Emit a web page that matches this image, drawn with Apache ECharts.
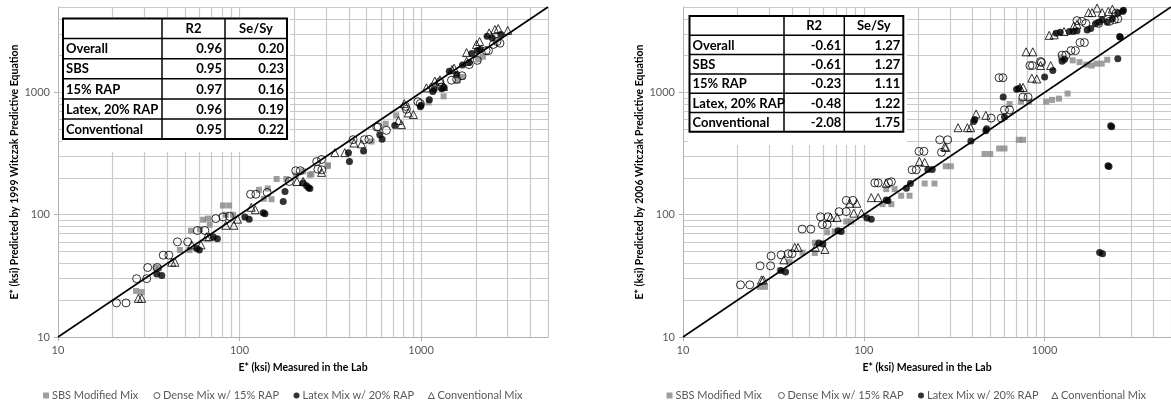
<!DOCTYPE html>
<html><head><meta charset="utf-8">
<script src="https://cdn.jsdelivr.net/npm/echarts@6/dist/echarts.min.js"></script>
<style>html,body{margin:0;padding:0;background:#fff}#c{width:1171px;height:407px}</style>
</head><body><div id="c"></div>
<script>
// ---------- data ----------
const seriesNames = ['SBS Modified Mix', 'Dense Mix w/ 15% RAP', 'Latex Mix w/ 20% RAP', 'Conventional Mix'];
const majorTicks = [10, 100, 1000];
const gridValues = [20,30,40,50,60,70,80,90,100,200,300,400,500,600,700,800,900,1000,2000,3000,4000,5000];
const axisRange = [10, 5000];

const tableRowNames = ['Overall', 'SBS', '15% RAP', 'Latex, 20% RAP', 'Conventional'];
const tableHeaders = ['R2', 'Se/Sy'];
const r2_1999 = ['0.96', '0.95', '0.97', '0.96', '0.95'];
const se_1999 = ['0.20', '0.23', '0.16', '0.19', '0.22'];
const r2_2006 = ['-0.61', '-0.61', '-0.23', '-0.48', '-2.08'];
const se_2006 = ['1.27', '1.27', '1.11', '1.22', '1.75'];

// 1999 Witczak: [measured, predicted]
const sbs1999 = [[26.9,23.8],[28.9,23.3],[34.5,37],[36,36.5],[46.9,51.5],[53,51.5],[54,74],[60.6,76],[68.5,83],[63,91],[67,93],[81,119],[87.6,119],[84,100],[92,100],[128,160],[143,164],[136,135],[150,134],[160,196],[181,196],[204,210],[224,227],[244,212],[249,215],[305,250],[307,254],[534,397],[638,555],[730,650],[1100,830],[1330,930],[1590,1250],[1690,1340],[2060,1860],[2190,1960],[2600,2700]];
const dense1999 = [[21,19],[23.7,19],[27.1,30],[30.8,30],[31.2,37],[35.2,37],[38,46.7],[40.8,46.7],[45.5,60],[51.8,60],[58.6,74.3],[64.4,74.3],[74,93],[81,96],[88,97],[115,147],[123,147],[142,152],[188,187],[204,229],[216,229],[266,272],[283,283],[270,236],[284,233],[422,411],[487,411],[516,414],[570,520],[580,524],[644,490],[830,728],[820,769],[990,812],[960,840],[1165,1110],[1300,1110],[1270,1220],[1470,1260],[1570,1280],[1680,1370],[1840,1690],[2040,1830],[2280,2200],[2350,2200],[2500,2470],[2620,2610],[2720,2530]];
const latex1999 = [[35,32.8],[37.3,31.8],[58,53],[60,51.5],[71.7,65.6],[75.5,63.6],[107,96],[113,92],[135,104],[138,102],[174,128],[178,155],[224,182],[234,173],[240,166],[244,164],[398,322],[403,272],[482,332],[592,450],[610,415],[716,537],[990,765],[1000,785],[1110,870],[1160,1020],[1180,1060],[1300,1070],[1340,1100],[1430,1490],[1570,1400],[1690,1680],[1840,1760],[1900,2080],[2040,2200],[2120,2250],[2310,2880],[2460,2800],[2750,2980]];
const conv1999 = [[27.7,20.7],[28.9,20.7],[42.3,40.9],[44.1,40.9],[54.5,56.7],[61.3,56.7],[65.8,66],[68,66],[84,82],[93,82],[97.5,92],[116,115],[122,110],[207,187],[224,187],[283,222],[335,322],[380,322],[427,386],[470,380],[750,590],[780,546],[808,810],[850,680],[907,660],[1070,1090],[1190,1240],[1270,1270],[1330,1120],[1480,1540],[1520,1580],[1780,1800],[1780,2120],[2020,2470],[2100,2610],[2370,3070],[2550,3270],[2660,3330],[3000,3220]];

// 2006 Witczak: [measured, predicted]
const sbs2006 = [[26.6,25.7],[28.4,25.7],[34.3,35.1],[38.6,41.2],[45.8,49],[53.6,48.6],[53.6,59],[62.7,71.8],[69,73],[80,88],[85,88],[127,122],[142,122],[133,162],[148,162],[161,143],[179,143],[217,180],[246,180],[284,249],[303,249],[465,314],[500,314],[560,348],[600,348],[720,410],[760,410],[640,805],[740,840],[820,840],[1020,840],[1100,870],[1200,890],[1340,980],[1230,1930],[1430,1830],[1560,1770],[1700,1690],[1820,1660],[1940,1720],[2070,1720],[2220,1850]];
const dense2006 = [[20.8,26.7],[23.4,26.7],[26.7,38.2],[30.5,38.2],[30.7,46],[34.9,47],[38.2,48],[40.1,48],[45.6,76.3],[50.9,76.3],[57.6,96.2],[63.4,96.2],[59,83],[62.7,83],[73,106],[80,106],[80,131],[87,131],[115,182],[120,182],[137,183],[142,186],[185,233],[195,233],[202,330],[215,330],[263,410],[291,410],[269,324],[506,617],[576,617],[600,720],[640,720],[758,916],[810,916],[560,1320],[588,1320],[829,1660],[857,1660],[950,1790],[960,1760],[1250,2020],[1310,2020],[1400,2200],[1480,2200],[1570,2560],[1660,2560],[1510,3870],[1610,3820],[1690,3670],[1990,3670],[2290,3820],[2430,3940],[2540,4000],[2490,4460]];
const latex2006 = [[34.8,35],[36.9,34],[56.5,58.6],[59.4,57.5],[72,74],[75,73],[104,94],[110,92],[133,132],[136,130],[172,165],[181,180],[226,234],[239,234],[391,400],[405,580],[411,600],[473,486],[478,504],[590,916],[600,630],[700,1060],[720,1080],[1000,1340],[1110,1510],[1250,1800],[1290,1870],[1160,3050],[1220,3110],[1370,3150],[1440,3150],[1510,3200],[1720,3240],[1800,3340],[1910,3650],[2000,3750],[2080,3940],[2220,3750],[2370,4000],[2540,4460],[2700,4600],[2730,4700],[2540,1890],[2600,2870],[2620,2830],[2320,535],[2350,525],[2240,252],[2270,248],[2015,49],[2090,48]];
const conv2006 = [[27.2,29.3],[27.8,29.3],[36.1,42.8],[41.5,54],[43.3,54],[54,54],[60.9,52],[65.4,95],[71.2,95],[83.5,124],[91.5,124],[88,103],[97,103],[110,138],[120,138],[133,181],[203,273],[217,268],[280,360],[284,355],[332,515],[374,515],[390,515],[418,667],[473,650],[730,1100],[760,1100],[850,1310],[905,1290],[790,2150],[860,2150],[950,1660],[1080,1660],[1060,2930],[1130,2960],[1280,3150],[1450,3500],[1510,3600],[1750,4500],[1830,4500],[1950,4900],[2080,4500],[2250,4600],[2370,4800]];

// ---------- chart ----------
const FONT = 'Lato, "Noto Sans", sans-serif';
const GRID_COLOR = '#c9c9c9';
const AXIS_COLOR = '#b0b0b0';

function xAxisCfg(gi) {
  return {
    type: 'log', logBase: 10, gridIndex: gi, min: axisRange[0], max: axisRange[1],
    name: 'E* (ksi) Measured in the Lab', nameLocation: 'middle', nameGap: 25,
    nameTextStyle: { fontFamily: FONT, fontSize: 10.5, fontWeight: 'bold', color: '#000' },
    axisLine: { lineStyle: { color: AXIS_COLOR, width: 1 } },
    axisTick: { show: true, length: 4, lineStyle: { color: AXIS_COLOR } },
    axisLabel: { fontFamily: FONT, fontSize: 11, color: '#595959', margin: 8, showMaxLabel: false,
      formatter: v => { const r = Math.round(v); return majorTicks.indexOf(r) >= 0 ? String(r) : ''; } },
    splitLine: { show: false }, minorTick: { show: false }, minorSplitLine: { show: false }
  };
}
function yAxisCfg(gi, title) {
  return {
    type: 'log', logBase: 10, gridIndex: gi, min: axisRange[0], max: axisRange[1],
    name: title, nameLocation: 'middle', nameGap: 37,
    nameTextStyle: { fontFamily: FONT, fontSize: 10.5, fontWeight: 'bold', color: '#000' },
    axisLine: { show: true, lineStyle: { color: AXIS_COLOR, width: 1 } },
    axisTick: { show: true, length: 4, lineStyle: { color: AXIS_COLOR } },
    axisLabel: { fontFamily: FONT, fontSize: 11, color: '#595959', margin: 8, showMaxLabel: false,
      formatter: v => { const r = Math.round(v); return majorTicks.indexOf(r) >= 0 ? String(r) : ''; } },
    splitLine: { show: false }, minorTick: { show: false }, minorSplitLine: { show: false }
  };
}

const styles = [
  { symbol: 'rect', symbolSize: 6, itemStyle: { color: '#878787' } },
  { symbol: 'circle', symbolSize: 8, itemStyle: { color: 'rgba(0,0,0,0)', borderColor: '#000', borderWidth: 1 } },
  { symbol: 'circle', symbolSize: 7, itemStyle: { color: '#000' } },
  { symbol: 'triangle', symbolSize: 8, itemStyle: { color: 'rgba(0,0,0,0)', borderColor: '#000', borderWidth: 1 } }
];

function chartSeries(gi, datasets) {
  const out = [];
  const diag = [[axisRange[0], axisRange[0]], [axisRange[1], axisRange[1]]];
  const ml = [];
  gridValues.forEach(v => { ml.push({ xAxis: v }); ml.push({ yAxis: v }); });
  out.push({
    type: 'line', name: 'diag' + gi, xAxisIndex: gi, yAxisIndex: gi, data: diag,
    symbol: 'none', lineStyle: { color: '#000', width: 1.6 }, z: 4, silent: true,
    markLine: { silent: true, symbol: 'none', z: 1, label: { show: false },
      lineStyle: { color: GRID_COLOR, width: 1.2, type: 'solid' }, emphasis: { disabled: true }, data: ml }
  });
  datasets.forEach((d, i) => {
    out.push(Object.assign({ type: 'scatter', name: seriesNames[i], xAxisIndex: gi, yAxisIndex: gi, data: d, z: 3 }, styles[i]));
  });
  return out;
}

function tableGraphics(x0, y0, colW, rowH, r2, se, box) {
  const els = [];
  els.push({ type: 'rect', shape: { x: box[0], y: box[1], width: box[2], height: box[3] }, style: { fill: '#fff' }, z: 100 });
  const W = colW[0] + colW[1] + colW[2], H = rowH * 6;
  for (let i = 1; i < 6; i++) {
    els.push({ type: 'line', shape: { x1: x0, y1: y0 + i * rowH, x2: x0 + W, y2: y0 + i * rowH }, style: { stroke: '#000', lineWidth: 1.5 }, z: 101 });
  }
  const c1 = x0 + colW[0], c2 = c1 + colW[1], c3 = c2 + colW[2];
  [c1, c2].forEach(cx => els.push({ type: 'line', shape: { x1: cx, y1: y0, x2: cx, y2: y0 + H }, style: { stroke: '#000', lineWidth: 1.5 }, z: 101 }));
  els.push({ type: 'rect', shape: { x: x0, y: y0, width: W, height: H }, style: { fill: 'none', stroke: '#000', lineWidth: 2 }, z: 102 });
  const txt = (t, x, y, align) => ({ type: 'text', x: x, y: y, z: 103,
    style: { text: t, fontFamily: FONT, fontSize: 13, fontWeight: 'bold', fill: '#000',
      align: align, verticalAlign: 'middle', textAlign: align, textVerticalAlign: 'middle' } });
  els.push(txt(tableHeaders[0], (c1 + c2) / 2, y0 + rowH / 2 + 0.5, 'center'));
  els.push(txt(tableHeaders[1], (c2 + c3) / 2, y0 + rowH / 2 + 0.5, 'center'));
  tableRowNames.forEach((n, i) => {
    const yc = y0 + (i + 1.5) * rowH + 0.5;
    els.push(txt(n, x0 + 3, yc, 'left'));
    els.push(txt(r2[i], c2 - 3, yc, 'right'));
    els.push(txt(se[i], c3 - 3, yc, 'right'));
  });
  return els;
}

// one legend item per component so each sits where the reference puts it
const legendLefts = [[43, 153.5, 293.5, 428], [666.5, 778, 918, 1051.5]];
const legends = [];
legendLefts.forEach(row => row.forEach((lx, i) => {
  legends.push({
    left: lx, top: 390, itemWidth: 6, itemHeight: 6, data: [seriesNames[i]], selectedMode: false,
    padding: 0, itemStyle: { borderWidth: 0.8 },
    textStyle: { fontFamily: FONT, fontSize: 11, color: '#595959', padding: [0, 0, 0, -2] }
  });
}));

const chart = echarts.init(document.getElementById('c'), null, { renderer: 'canvas' });
chart.setOption({
  animation: false,
  backgroundColor: '#fff',
  grid: [
    { left: 58, top: 7, width: 490, height: 330, containLabel: false },
    { left: 683, top: 7, width: 488, height: 330, containLabel: false }
  ],
  xAxis: [xAxisCfg(0), xAxisCfg(1)],
  yAxis: [yAxisCfg(0, 'E* (ksi) Predicted by 1999 Witczak Predictive Equation'),
          yAxisCfg(1, 'E* (ksi) Predicted by 2006 Witczak Predictive Equation')],
  legend: legends,
  series: chartSeries(0, [sbs1999, dense1999, latex1999, conv1999])
    .concat(chartSeries(1, [sbs2006, dense2006, latex2006, conv2006])),
  graphic: tableGraphics(63, 18.5, [99, 63, 62], 20.1, r2_1999, se_1999, [62, 17, 228, 135])
    .concat(tableGraphics(689.5, 16, [94.5, 60.3, 59], 19.3, r2_2006, se_2006, [688, 15, 219, 130]))
});
</script>
</body></html>
